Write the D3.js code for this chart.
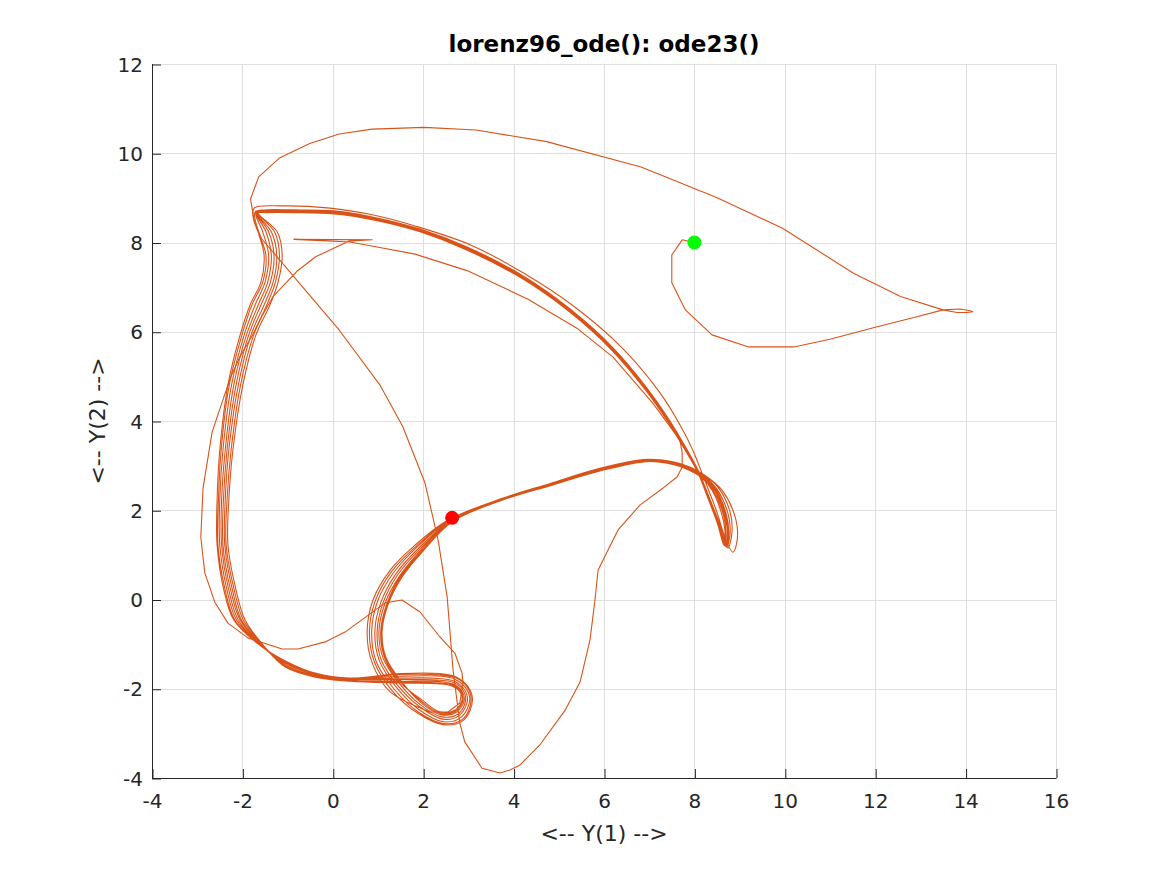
<!DOCTYPE html>
<html>
<head>
<meta charset="utf-8">
<script src="https://cdn.jsdelivr.net/npm/d3@7"></script>
<style>
  html, body { margin: 0; padding: 0; background: #ffffff; }
  svg { display: block; }
  text { font-family: "DejaVu Sans", sans-serif; fill: #262626; }
</style>
</head>
<body>
<svg id="chart" width="1167" height="875"></svg>
<script>
// ---- data ----
const titleText = "lorenz96_ode(): ode23()";
const xLabelText = "<-- Y(1) -->";
const yLabelText = "<-- Y(2) -->";
const xTicks = [-4, -2, 0, 2, 4, 6, 8, 10, 12, 14, 16];
const yTicks = [-4, -2, 0, 2, 4, 6, 8, 10, 12];
const startPoint = [8.00, 8.00];
const endPoint = [2.64, 1.83];

// transient part of the trajectory (thin single line)
const transient = [
[8.00,8.00],[7.73,8.06],[7.50,7.72],[7.50,7.10],[7.80,6.49],[8.39,5.93],[9.20,5.66],[10.20,5.66],[11.00,5.83],[12.00,6.10],[12.90,6.33],[13.50,6.49],[13.88,6.51],[14.10,6.47],[14.16,6.45],[14.03,6.43],[13.81,6.43],[13.50,6.49],[12.56,6.79],[11.52,7.31],[9.95,8.32],[8.49,9.01],[6.82,9.69],[4.73,10.26],[3.17,10.52],[2.02,10.58],[0.87,10.54],[0.14,10.43],[-0.51,10.22],[-1.17,9.90],[-1.64,9.47],[-1.82,8.97],[-1.74,8.50],[-1.58,8.09],
[0.14,6.04],[1.04,4.81],[1.55,3.87],[2.04,2.61],[2.33,1.33],[2.53,0.06],[2.66,-1.58],[2.81,-2.77],[2.92,-3.19],[3.30,-3.78],[3.70,-3.89],[3.92,-3.82],[4.14,-3.71],[4.58,-3.26],[5.14,-2.48],[5.47,-1.85],[5.69,-0.91],[5.80,-0.01],[5.87,0.66],[6.31,1.56],[6.80,2.12],[7.31,2.50],[7.62,2.75],[7.73,2.97],[7.73,3.28],[7.68,3.57],
[7.08,4.40],[6.20,5.43],[5.40,6.08],[4.32,6.73],[2.97,7.37],[1.82,7.74],[0.98,7.90],[0.38,8.01],[-0.86,8.07],[0.87,8.06],[0.35,8.03],[-0.38,7.68],[-0.80,7.35],[-1.32,6.79],[-1.57,6.35],[-1.79,5.90],[-2.05,5.45],
[-2.27,4.96],[-2.67,3.75],[-2.87,2.50],[-2.92,1.40],[-2.87,0.93],[-2.83,0.59],[-2.61,-0.06],[-2.32,-0.53],[-1.88,-0.86],[-1.12,-1.11],[-0.77,-1.11],[-0.17,-0.95],[0.27,-0.73],[1.15,-0.08],[1.53,-0.01],[1.93,-0.28],[2.37,-0.84],[2.70,-1.20],[2.86,-1.65],[2.88,-1.87],[2.81,-2.32],[2.55,-2.52],[2.15,-2.52]
];

// successive turns around the attractor
const loop0 = [
[1.27,-2.07],[0.87,-1.42],[0.76,-0.73],[0.89,-0.01],[1.27,0.66],[1.82,1.22],[2.55,1.78],[3.70,2.25],[4.81,2.60],[5.91,2.94],[6.95,3.14],[7.50,3.09],[7.90,2.97],[8.22,2.79],
[8.61,2.45],[8.92,1.78],[8.94,1.29],[8.85,1.06],[8.70,1.33],[8.48,2.01],[8.21,2.72],[8.01,3.24],
[7.77,3.75],[7.24,4.63],[6.40,5.64],[5.36,6.55],[4.21,7.32],[3.06,7.94],[1.82,8.37],[0.87,8.62],[-0.06,8.77],[-1.10,8.82],[-1.74,8.77],[-1.76,8.55],
[-1.48,7.72],[-1.55,7.11],[-1.79,6.60],[-2.01,5.93],[-2.29,4.81],[-2.47,3.35],[-2.53,2.23],[-2.54,1.22],[-2.38,0.21],[-2.17,-0.46],[-1.64,-1.00],
[-1.06,-1.37],[-0.39,-1.65],[0.38,-1.76],[1.49,-1.66],[2.37,-1.66],[2.74,-1.74],[2.99,-1.95],[3.09,-2.25],[2.91,-2.69],[2.47,-2.81],[1.88,-2.55]];
const loop1 = [
[1.31,-2.04],[0.92,-1.40],[0.81,-0.73],[0.94,-0.03],[1.31,0.64],[1.85,1.20],[2.56,1.77],[3.70,2.24],[4.81,2.59],[5.91,2.93],[6.95,3.13],[7.50,3.08],[7.90,2.96],[8.21,2.79],
[8.52,2.52],[8.79,1.96],[8.83,1.49],[8.74,1.15],[8.61,1.56],[8.35,2.23],[8.08,2.90],
[7.79,3.44],[7.46,4.00],[6.95,4.74],[6.20,5.64],[5.25,6.51],[4.21,7.25],[2.97,7.90],[1.93,8.30],[0.98,8.55],[0.03,8.71],[-0.84,8.73],[-1.50,8.73],[-1.72,8.68],
[-1.65,8.24],[-1.52,7.72],[-1.59,7.11],[-1.83,6.60],[-2.05,5.93],[-2.32,4.81],[-2.50,3.35],[-2.56,2.23],[-2.56,1.22],[-2.41,0.21],[-2.19,-0.46],[-1.65,-1.00],
[-1.06,-1.38],[-0.39,-1.66],[0.38,-1.77],[1.49,-1.68],[2.37,-1.69],[2.73,-1.76],[2.97,-1.96],[3.06,-2.25],[2.89,-2.67],[2.46,-2.78],[1.89,-2.52]];
const loop2 = [
[1.35,-2.00],[0.96,-1.39],[0.86,-0.73],[0.99,-0.04],[1.35,0.61],[1.87,1.18],[2.58,1.77],[3.70,2.24],[4.81,2.58],[5.91,2.92],[6.95,3.12],[7.50,3.07],[7.89,2.95],[8.20,2.78],
[8.48,2.50],[8.74,1.94],[8.79,1.48],[8.71,1.17],[8.58,1.59],[8.34,2.24],[8.07,2.89],
[7.78,3.43],[7.45,3.99],[6.94,4.73],[6.19,5.63],[5.24,6.50],[4.20,7.24],[2.96,7.89],[1.93,8.29],[0.98,8.54],[0.03,8.70],[-0.84,8.72],[-1.50,8.72],[-1.70,8.67],
[-1.55,8.24],[-1.42,7.72],[-1.50,7.11],[-1.72,6.60],[-1.96,5.93],[-2.24,4.81],[-2.43,3.35],[-2.50,2.23],[-2.50,1.22],[-2.34,0.21],[-2.13,-0.46],[-1.62,-1.00],
[-1.06,-1.40],[-0.39,-1.68],[0.38,-1.78],[1.49,-1.72],[2.37,-1.72],[2.71,-1.79],[2.94,-1.98],[3.03,-2.25],[2.85,-2.63],[2.45,-2.74],[1.91,-2.47]];
const loop3 = [
[1.40,-1.96],[1.03,-1.37],[0.93,-0.73],[1.06,-0.07],[1.40,0.58],[1.91,1.16],[2.60,1.76],[3.70,2.23],[4.81,2.57],[5.91,2.91],[6.95,3.11],[7.50,3.06],[7.88,2.94],[8.19,2.77],
[8.46,2.49],[8.70,1.93],[8.76,1.47],[8.70,1.19],[8.57,1.62],[8.33,2.25],[8.07,2.89],
[7.78,3.42],[7.45,3.97],[6.94,4.71],[6.19,5.61],[5.24,6.48],[4.20,7.22],[2.96,7.87],[1.93,8.28],[0.98,8.53],[0.03,8.68],[-0.84,8.71],[-1.50,8.71],[-1.69,8.67],
[-1.48,8.24],[-1.36,7.72],[-1.44,7.11],[-1.65,6.60],[-1.91,5.93],[-2.19,4.81],[-2.38,3.35],[-2.46,2.23],[-2.46,1.22],[-2.30,0.21],[-2.09,-0.46],[-1.61,-1.01],
[-1.06,-1.43],[-0.39,-1.69],[0.38,-1.79],[1.49,-1.76],[2.37,-1.77],[2.69,-1.83],[2.90,-2.00],[2.98,-2.25],[2.81,-2.59],[2.43,-2.68],[1.93,-2.41]];
const loop4 = [
[1.44,-1.93],[1.07,-1.35],[0.98,-0.73],[1.11,-0.08],[1.44,0.56],[1.94,1.14],[2.61,1.75],[3.70,2.22],[4.81,2.56],[5.91,2.90],[6.95,3.10],[7.50,3.05],[7.87,2.93],[8.18,2.76],
[8.43,2.47],[8.66,1.91],[8.73,1.46],[8.68,1.20],[8.55,1.64],[8.32,2.26],[8.07,2.88],
[7.78,3.41],[7.45,3.96],[6.94,4.70],[6.19,5.60],[5.24,6.47],[4.20,7.21],[2.96,7.86],[1.93,8.27],[0.98,8.52],[0.03,8.67],[-0.84,8.70],[-1.50,8.70],[-1.68,8.67],
[-1.42,8.24],[-1.30,7.72],[-1.38,7.11],[-1.59,6.60],[-1.86,5.93],[-2.14,4.81],[-2.34,3.35],[-2.42,2.23],[-2.43,1.22],[-2.26,0.21],[-2.05,-0.46],[-1.59,-1.01],
[-1.06,-1.46],[-0.39,-1.71],[0.38,-1.80],[1.49,-1.79],[2.37,-1.81],[2.67,-1.86],[2.87,-2.01],[2.94,-2.25],[2.78,-2.56],[2.41,-2.63],[1.94,-2.36]];
const loop5 = [
[1.48,-1.89],[1.12,-1.33],[1.02,-0.73],[1.15,-0.10],[1.48,0.53],[1.96,1.12],[2.62,1.75],[3.70,2.22],[4.81,2.56],[5.91,2.89],[6.95,3.10],[7.50,3.04],[7.87,2.92],[8.17,2.75],
[8.41,2.46],[8.64,1.90],[8.70,1.46],[8.66,1.21],[8.53,1.65],[8.31,2.26],[8.06,2.88],
[7.77,3.40],[7.44,3.95],[6.93,4.69],[6.18,5.59],[5.23,6.46],[4.19,7.20],[2.95,7.85],[1.93,8.25],[0.98,8.50],[0.03,8.65],[-0.84,8.68],[-1.50,8.68],[-1.67,8.66],
[-1.36,8.24],[-1.24,7.72],[-1.32,7.11],[-1.52,6.60],[-1.81,5.93],[-2.09,4.81],[-2.30,3.35],[-2.38,2.23],[-2.39,1.22],[-2.22,0.21],[-2.02,-0.46],[-1.57,-1.02],
[-1.06,-1.48],[-0.39,-1.72],[0.38,-1.82],[1.49,-1.83],[2.37,-1.84],[2.65,-1.89],[2.84,-2.03],[2.91,-2.25],[2.74,-2.52],[2.39,-2.58],[1.95,-2.31]];
const loop6 = [
[1.53,-1.85],[1.18,-1.31],[1.09,-0.73],[1.22,-0.12],[1.53,0.50],[2.00,1.09],[2.64,1.74],[3.70,2.21],[4.81,2.55],[5.91,2.88],[6.95,3.09],[7.50,3.03],[7.86,2.91],[8.15,2.74],
[8.39,2.45],[8.61,1.89],[8.68,1.45],[8.65,1.22],[8.52,1.67],[8.30,2.27],[8.06,2.88],
[7.77,3.39],[7.44,3.94],[6.93,4.68],[6.18,5.58],[5.23,6.45],[4.19,7.19],[2.95,7.84],[1.93,8.24],[0.98,8.49],[0.03,8.64],[-0.84,8.67],[-1.50,8.67],[-1.66,8.66],
[-1.29,8.24],[-1.18,7.72],[-1.27,7.11],[-1.46,6.60],[-1.75,5.93],[-2.04,4.81],[-2.25,3.35],[-2.34,2.23],[-2.36,1.22],[-2.18,0.21],[-1.98,-0.46],[-1.55,-1.02],
[-1.06,-1.51],[-0.39,-1.74],[0.38,-1.83],[1.49,-1.87],[2.37,-1.89],[2.62,-1.93],[2.80,-2.05],[2.86,-2.25],[2.70,-2.48],[2.37,-2.52],[1.97,-2.25]];
const loop7 = [
[1.50,-1.87],[1.15,-1.32],[1.06,-0.73],[1.19,-0.11],[1.50,0.52],[1.98,1.10],[2.63,1.74],[3.70,2.22],[4.81,2.56],[5.91,2.90],[6.95,3.10],[7.50,3.05],[7.88,2.93],[8.18,2.76],
[8.44,2.48],[8.68,1.92],[8.74,1.47],[8.69,1.19],[8.56,1.63],[8.32,2.25],[8.07,2.89],
[7.78,3.42],[7.45,3.97],[6.94,4.71],[6.19,5.61],[5.24,6.48],[4.20,7.22],[2.96,7.87],[1.93,8.27],[0.98,8.52],[0.03,8.68],[-0.84,8.70],[-1.50,8.70],[-1.65,8.66],
[-1.23,8.24],[-1.12,7.72],[-1.21,7.11],[-1.39,6.60],[-1.70,5.93],[-1.99,4.81],[-2.21,3.35],[-2.30,2.23],[-2.32,1.22],[-2.14,0.21],[-1.94,-0.46],[-1.54,-1.02],
[-1.06,-1.50],[-0.39,-1.73],[0.38,-1.82],[1.49,-1.85],[2.37,-1.87],[2.64,-1.91],[2.82,-2.04],[2.88,-2.25],[2.72,-2.50],[2.38,-2.55],[1.96,-2.28]];
const finalPart = [[1.52,-1.86],[1.17,-1.31],[1.08,-0.73],[1.21,-0.12],[1.52,0.51],[1.99,1.10],[2.64,1.83]];

// ---- drawing ----
const plot = { left: 152, right: 1056, top: 64, bottom: 778 };
const svg = d3.select("#chart");

const x = d3.scaleLinear().domain([-4, 16]).range([plot.left, plot.right]);
const y = d3.scaleLinear().domain([-4, 12]).range([plot.bottom, plot.top]);

const lineColor = "#d95319";
const gridColor = "#dfdfdf";
const axisColor = "#262626";

// grid
const grid = svg.append("g");
grid.selectAll(".gx").data(xTicks).enter().append("line")
  .attr("x1", d => Math.round(x(d)) + 0.5).attr("x2", d => Math.round(x(d)) + 0.5)
  .attr("y1", plot.top).attr("y2", plot.bottom)
  .attr("stroke", gridColor).attr("stroke-width", 1);
grid.selectAll(".gy").data(yTicks).enter().append("line")
  .attr("y1", d => Math.round(y(d)) + 0.5).attr("y2", d => Math.round(y(d)) + 0.5)
  .attr("x1", plot.left).attr("x2", plot.right)
  .attr("stroke", gridColor).attr("stroke-width", 1);

// axes (ticks inward), labels with plain hyphen-minus
const fmt = d => String(d);
const xAxis = d3.axisBottom(x).tickValues(xTicks).tickSize(0).tickFormat(fmt);
const yAxis = d3.axisLeft(y).tickValues(yTicks).tickSize(0).tickFormat(fmt);

const gx = svg.append("g").attr("transform", `translate(0,${plot.bottom})`).call(xAxis);
gx.select(".domain").remove();
gx.selectAll(".tick text").attr("font-size", 20).attr("font-family", "DejaVu Sans")
  .attr("fill", axisColor).attr("dy", null).attr("y", 30).style("text-anchor", "middle");
gx.selectAll(".tick").append("line").attr("x1", 0.5).attr("x2", 0.5).attr("y1", 0).attr("y2", -9)
  .attr("stroke", axisColor).attr("stroke-width", 1);

const gy = svg.append("g").attr("transform", `translate(${plot.left},0)`).call(yAxis);
gy.select(".domain").remove();
gy.selectAll(".tick text").attr("font-size", 20).attr("font-family", "DejaVu Sans")
  .attr("fill", axisColor).attr("x", -9).attr("dy", "0.35em").style("text-anchor", "end");
gy.selectAll(".tick").append("line").attr("y1", 0.5).attr("y2", 0.5).attr("x1", 0).attr("x2", 9)
  .attr("stroke", axisColor).attr("stroke-width", 1);

svg.append("line").attr("x1", plot.left + 0.5).attr("x2", plot.left + 0.5)
  .attr("y1", plot.top).attr("y2", plot.bottom + 0.5).attr("stroke", axisColor).attr("stroke-width", 1);
svg.append("line").attr("x1", plot.left).attr("x2", plot.right + 0.5)
  .attr("y1", plot.bottom + 0.5).attr("y2", plot.bottom + 0.5).attr("stroke", axisColor).attr("stroke-width", 1);

// trajectory: transient as straight solver steps, attractor turns smoothed
const straight = d3.line().x(d => x(d[0])).y(d => y(d[1]));
const smooth = d3.line().x(d => x(d[0])).y(d => y(d[1])).curve(d3.curveCatmullRom.alpha(0.5));
svg.append("path").datum(transient)
  .attr("d", straight).attr("fill", "none")
  .attr("stroke", lineColor).attr("stroke-width", 1.1).attr("stroke-linejoin", "round");
const attractor = [].concat([transient[transient.length - 1]], loop0, loop1, loop2, loop3, loop4, loop5, loop6, loop7, finalPart);
svg.append("path").datum(attractor)
  .attr("d", smooth).attr("fill", "none")
  .attr("stroke", lineColor).attr("stroke-width", 1.1).attr("stroke-linejoin", "round");

// start / end markers
svg.append("circle").attr("cx", x(startPoint[0])).attr("cy", y(startPoint[1])).attr("r", 7).attr("fill", "#00ff00");
svg.append("circle").attr("cx", x(endPoint[0])).attr("cy", y(endPoint[1])).attr("r", 7).attr("fill", "#ff0000");

// title and labels
svg.append("text").attr("x", (plot.left + plot.right) / 2).attr("y", 52)
  .attr("text-anchor", "middle").attr("font-size", 23).attr("font-weight", "bold")
  .style("fill", "#000000").text(titleText);
svg.append("text").attr("x", (plot.left + plot.right) / 2).attr("y", 841)
  .attr("text-anchor", "middle").attr("font-size", 22).text(xLabelText);
svg.append("text").attr("transform", `translate(105,${(plot.top + plot.bottom) / 2}) rotate(-90)`)
  .attr("text-anchor", "middle").attr("font-size", 22).text(yLabelText);
</script>
</body>
</html>
